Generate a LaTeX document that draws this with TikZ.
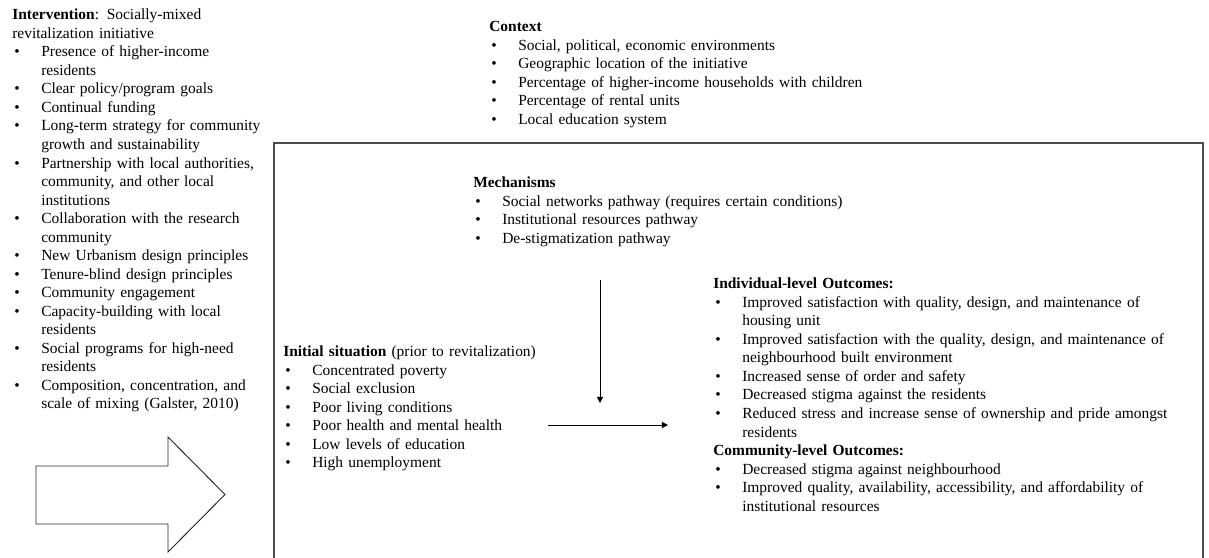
\documentclass[tikz,border=0pt]{standalone}
\usepackage{fontspec}
\setmainfont{Liberation Serif}
\usetikzlibrary{arrows.meta, positioning}
\setlength{\parindent}{0pt}
\newcommand{\bul}{\par\noindent\hangindent=21.75pt\hangafter=1\makebox[21.75pt][l]{\hspace{1.5pt}\textbullet}}

\begin{document}
\begin{tikzpicture}[
  x=0.75pt, y=-0.75pt,
  blk/.style = {
    anchor=north west, inner sep=0pt, align=left,
    text width=#1, font=\fontsize{11.6}{13.9}\selectfont
  },
  blk/.default = 340pt,
  frame/.style  = {draw=black!70, line width=1.1pt},
  hollow/.style = {draw=black!85, line width=0.7pt, fill=white},
  arr/.style    = {-{Triangle[length=4.6pt, width=4.6pt]}, line width=0.75pt, color=black}
]
  \useasboundingbox (0,0) rectangle (1209,557);

  \draw[frame] (274,562) -- (274,143) -- (1203,143) -- (1203,562);

  \node[blk=200pt] (interv) at (12,6.5) {\strut\textbf{Intervention}: Socially-mixed\newline
    revitalization initiative
    \bul Presence of higher-income\newline residents
    \bul Clear policy/program goals
    \bul Continual funding
    \bul Long-term strategy for community\newline growth and sustainability
    \bul Partnership with local authorities,\newline community, and other local\newline institutions
    \bul Collaboration with the research\newline community
    \bul New Urbanism design principles
    \bul Tenure-blind design principles
    \bul Community engagement
    \bul Capacity-building with local\newline residents
    \bul Social programs for high-need\newline residents
    \bul Composition, concentration, and\newline scale of mixing (Galster, 2010)\par};

  \node[blk] (context) at (489,18.5) {\strut\textbf{Context}
    \bul Social, political, economic environments
    \bul Geographic location of the initiative
    \bul Percentage of higher-income households with children
    \bul Percentage of rental units
    \bul Local education system\par};

  \node[blk] (mech) at (473,174.5) {\strut\textbf{Mechanisms}
    \bul Social networks pathway (requires certain conditions)
    \bul Institutional resources pathway
    \bul De-stigmatization pathway\par};

  \node[blk=250pt] (initial) at (283,343.5) {\strut\textbf{Initial situation} (prior to revitalization)
    \bul Concentrated poverty
    \bul Social exclusion
    \bul Poor living conditions
    \bul Poor health and mental health
    \bul Low levels of education
    \bul High unemployment\par};

  \node[blk=360pt] (outcomes) at (713,275.5) {\strut\textbf{Individual-level Outcomes:}
    \bul Improved satisfaction with quality, design, and maintenance of\newline housing unit
    \bul Improved satisfaction with the quality, design, and maintenance of\newline neighbourhood built environment
    \bul Increased sense of order and safety
    \bul Decreased stigma against the residents
    \bul Reduced stress and increase sense of ownership and pride amongst\newline residents\par
    \textbf{Community-level Outcomes:}
    \bul Decreased stigma against neighbourhood
    \bul Improved quality, availability, accessibility, and affordability of\newline institutional resources\par};

  \draw[hollow] (36,466) -- (168,466) -- (168,437) -- (225,494.5)
    -- (168,552) -- (168,524) -- (36,524) -- cycle;

  \coordinate (mechend)  at (600,280);
  \coordinate (mechtip)  at (600,403);
  \coordinate (initend)  at (548,425);
  \coordinate (outtip)   at (668,425);

  \draw[arr] (mechend) -- (mechtip);
  \draw[arr] (initend) -- (outtip);
\end{tikzpicture}
\end{document}
